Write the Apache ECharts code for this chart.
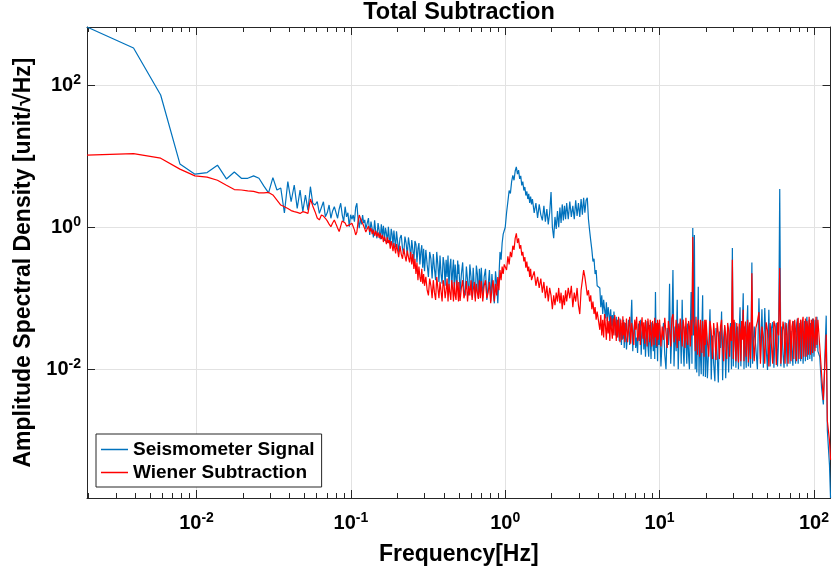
<!DOCTYPE html>
<html>
<head>
<meta charset="utf-8">
<script src="https://cdn.jsdelivr.net/npm/echarts@6/dist/echarts.min.js"></script>
<style>
  html, body { margin: 0; padding: 0; background: #fff; }
  #main { width: 832px; height: 571px; }
</style>
</head>
<body>
<div id="main"></div>
<script>
// frequency readout [Hz]: raw FFT bins (df = 1/512 Hz) at the low end, then ~1 px apart through the noise band
const freqLow = [0.001953125, 0.00391, 0.00586, 0.00781, 0.00977, 0.01172, 0.01367, 0.01563, 0.01758, 0.01953,
  0.02148, 0.02344, 0.02539, 0.02734, 0.0293, 0.03125, 0.0332, 0.03516, 0.03711, 0.03906,
  0.04102, 0.04297, 0.04492, 0.04688, 0.04883, 0.05078, 0.05273, 0.05469, 0.05664, 0.05859,
  0.06055, 0.0625, 0.06445, 0.06641, 0.06836, 0.07031, 0.07227, 0.07422, 0.07617, 0.07813,
  0.08008, 0.08203, 0.08398, 0.08594, 0.08789, 0.08984, 0.0918, 0.09375, 0.0957, 0.09766,
  0.09961, 0.10156, 0.10352, 0.10547, 0.10742, 0.10938, 0.11133, 0.11328, 0.11523, 0.11719,
  0.11914, 0.12109, 0.12305, 0.125];
const freqP1 = [0.13, 0.1325, 0.135, 0.1375, 0.14, 0.1425, 0.145, 0.1475, 0.15, 0.1525,
  0.155, 0.1575, 0.16, 0.1625, 0.165, 0.1675, 0.17, 0.1725, 0.175, 0.1775,
  0.18, 0.1825, 0.185, 0.1875, 0.19, 0.1925, 0.195, 0.1975];
const freqP2 = [0.2, 0.204, 0.208, 0.212, 0.216, 0.22, 0.224, 0.228, 0.232, 0.236,
  0.24, 0.244, 0.248, 0.252, 0.256, 0.26, 0.264, 0.268, 0.272, 0.276,
  0.28, 0.284, 0.288, 0.292, 0.296];
const freqP3 = [0.3, 0.306, 0.312, 0.318, 0.324, 0.33, 0.336, 0.342, 0.348, 0.354,
  0.36, 0.366, 0.372, 0.378, 0.384, 0.39, 0.396, 0.402, 0.408, 0.414,
  0.42, 0.426, 0.432, 0.438, 0.444, 0.45, 0.456, 0.462, 0.468, 0.474,
  0.48, 0.486, 0.492, 0.498];
const freqP4 = [0.5, 0.51, 0.52, 0.53, 0.54, 0.55, 0.56, 0.57, 0.58, 0.59,
  0.6, 0.61, 0.62, 0.63, 0.64, 0.65, 0.66, 0.67, 0.68, 0.69];
const freqP5 = [0.7, 0.715, 0.73, 0.745, 0.76, 0.775, 0.79, 0.805, 0.82, 0.835,
  0.85, 0.865, 0.88, 0.895, 0.91, 0.925, 0.94, 0.955, 0.97, 0.985];
const freqQ1 = [1.0, 1.02, 1.04, 1.06, 1.08, 1.1, 1.12, 1.14, 1.16, 1.18,
  1.2, 1.22, 1.24, 1.26, 1.28, 1.3, 1.32, 1.34, 1.36, 1.38,
  1.4, 1.42, 1.44, 1.46, 1.48];
const freqQ2 = [1.5, 1.54, 1.58, 1.62, 1.66, 1.7, 1.74, 1.78, 1.82, 1.86,
  1.9, 1.94, 1.98, 2.02, 2.06, 2.1, 2.14, 2.18, 2.22, 2.26,
  2.3, 2.34, 2.38, 2.42, 2.46];
const freqQ3 = [2.5, 2.56, 2.62, 2.68, 2.74, 2.8, 2.86, 2.92, 2.98, 3.04,
  3.1, 3.16, 3.22, 3.28, 3.34, 3.4, 3.46, 3.52, 3.58, 3.64,
  3.7, 3.76, 3.82, 3.88, 3.94];
const freqA = [4.10, 4.16, 4.22, 4.28, 4.34, 4.40, 4.46, 4.52, 4.58, 4.64,
  4.70, 4.76, 4.82, 4.88, 4.94, 5.00, 5.06, 5.12, 5.18, 5.24,
  5.30, 5.36, 5.42, 5.48, 5.54, 5.60, 5.66, 5.72, 5.78, 5.84,
  5.90, 5.96];
const freqB = [6.0, 6.1, 6.2, 6.3, 6.4, 6.5, 6.6, 6.7, 6.8, 6.9,
  7.0, 7.1, 7.2, 7.3, 7.4, 7.5, 7.6, 7.7, 7.8, 7.9,
  8.0, 8.1, 8.2, 8.3, 8.4, 8.5, 8.6, 8.7, 8.8, 8.9,
  9.0, 9.1, 9.2, 9.3, 9.4, 9.5, 9.6, 9.7, 9.8, 9.9];
const freqC = [10.0, 10.2, 10.4, 10.6, 10.8, 11.0, 11.2, 11.4, 11.6, 11.8,
  12.0, 12.2, 12.4, 12.6, 12.8, 13.0, 13.2, 13.4, 13.6, 13.8,
  14.0, 14.2, 14.4, 14.6, 14.8, 15.0, 15.2, 15.4, 15.6, 15.8,
  16.0, 16.2, 16.4, 16.6, 16.8, 17.0, 17.2, 17.4, 17.6, 17.8,
  18.0, 18.2, 18.4, 18.6, 18.8, 19.0, 19.2, 19.4, 19.6, 19.8];
const freqD = [20.0, 20.4, 20.8, 21.2, 21.6, 22.0, 22.4, 22.8, 23.2, 23.6,
  24.0, 24.4, 24.8, 25.2, 25.6, 26.0, 26.4, 26.8, 27.2, 27.6,
  28.0, 28.4, 28.8, 29.2, 29.6, 30.0, 30.4, 30.8, 31.2, 31.6,
  32.0, 32.4, 32.8, 33.2, 33.6, 34.0, 34.4, 34.8, 35.2, 35.6,
  36.0, 36.4, 36.8, 37.2, 37.6, 38.0, 38.4, 38.8, 39.2, 39.6];
const freqE = [40, 41, 42, 43, 44, 45, 46, 47, 48, 49,
  50, 51, 52, 53, 54, 55, 56, 57, 58, 59,
  60, 61, 62, 63, 64, 65, 66, 67, 68, 69,
  70, 71, 72, 73, 74, 75, 76, 77, 78, 79,
  80, 81, 82, 83, 84, 85, 86, 87, 88, 89,
  90, 91, 92, 93, 94, 95, 96, 97, 98, 99];
const freqF = [100, 101.5, 103, 104.5, 106, 109, 112, 115, 120, 122, 126, 128];

// Seismometer Signal [unit/sqrt(Hz)]
const seisLow = [662, 335, 73, 7.8, 5.6, 5.9, 7.5, 4.8, 6.0, 4.9,
  4.9, 5.3, 4.9, 3.8, 3.05, 5.0, 3.35, 3.57, 1.59, 4.39,
  2.29, 3.94, 1.85, 3.35, 1.66, 2.85, 1.75, 3.73, 2.18, 2.06,
  2.3, 1.57, 1.9, 2.29, 1.41, 1.6, 2.06, 1.34, 1.7, 1.95,
  1.95, 1.34, 1.8, 2.18, 1.5, 1.2, 1.95, 1.4, 1.6, 1.02,
  1.5, 1.3, 1.49, 1.2, 1.9, 2.18, 1.3, 0.97, 1.35, 1.1,
  1.49, 1.15, 1.27, 0.95];
const seisP1 = [1.35, 0.78, 1.2, 0.95, 0.72, 1.25, 0.85, 0.7, 1.15, 0.9,
  0.68, 1.1, 0.75, 1.05, 0.64, 0.98, 0.82, 0.6, 1.02, 0.7,
  0.58, 0.95, 0.8, 0.55, 0.9, 0.66, 0.52, 0.88];
const seisP2 = [0.83, 0.45, 0.7, 0.78, 0.5, 0.42, 0.74, 0.6, 0.4, 0.72,
  0.55, 0.37, 0.66, 0.48, 0.34, 0.64, 0.58, 0.32, 0.5, 0.6,
  0.3, 0.45, 0.56, 0.27, 0.5];
const seisP3 = [0.24, 0.48, 0.3, 0.2, 0.45, 0.36, 0.19, 0.42, 0.26, 0.18,
  0.45, 0.3, 0.17, 0.4, 0.22, 0.16, 0.38, 0.3, 0.15, 0.35,
  0.2, 0.4, 0.14, 0.28, 0.36, 0.14, 0.24, 0.35, 0.13, 0.3,
  0.2, 0.13, 0.34, 0.22];
const seisP4 = [0.3, 0.12, 0.22, 0.32, 0.13, 0.11, 0.28, 0.18, 0.11, 0.3,
  0.2, 0.105, 0.27, 0.15, 0.1, 0.29, 0.22, 0.1, 0.26, 0.14];
const seisP5 = [0.27, 0.1, 0.2, 0.26, 0.095, 0.15, 0.25, 0.09, 0.22, 0.12,
  0.085, 0.24, 0.16, 0.085, 0.2, 0.45, 0.35, 0.6, 0.8, 0.75];
const seisQ1 = [1.0, 1.6, 2.3, 3.3, 3.0, 4.4, 5.4, 4.6, 6.2, 7.1,
  5.6, 6.4, 4.8, 5.3, 3.9, 4.4, 3.3, 3.7, 2.8, 3.2,
  2.5, 2.95, 2.2, 2.7, 2.1];
const seisQ2 = [2.5, 1.6, 2.2, 1.35, 2.1, 1.5, 1.25, 2.0, 1.2, 1.8,
  1.1, 1.6, 3.14, 1.0, 0.7, 1.4, 0.95, 1.7, 1.0, 1.9,
  1.15, 2.1, 1.25, 2.0, 1.3];
const seisQ3 = [2.2, 1.3, 2.3, 1.4, 2.0, 1.3, 2.4, 1.45, 2.2, 1.4,
  2.5, 1.5, 2.6, 1.6, 2.4, 2.6, 1.3, 0.9, 0.65, 0.48,
  0.33, 0.36, 0.22, 0.25, 0.15];
const seisA = [0.14, 0.075, 0.11, 0.06, 0.095, 0.07, 0.052, 0.088, 0.048, 0.075,
  0.06, 0.042, 0.07, 0.04, 0.058, 0.036, 0.065, 0.045, 0.03, 0.055,
  0.028, 0.05, 0.036, 0.025, 0.052, 0.032, 0.022, 0.045, 0.027, 0.05,
  0.02, 0.038];
const seisB = [0.045, 0.019, 0.03, 0.05, 0.022, 0.04, 0.095, 0.018, 0.035, 0.047,
  0.02, 0.028, 0.017, 0.044, 0.025, 0.05, 0.016, 0.033, 0.045, 0.019,
  0.038, 0.015, 0.03, 0.048, 0.021, 0.015, 0.042, 0.026, 0.014, 0.046,
  0.03, 0.018, 0.044, 0.014, 0.123, 0.02, 0.035, 0.013, 0.045, 0.022];
const seisC = [0.042, 0.011, 0.028, 0.045, 0.016, 0.01, 0.038, 0.022, 0.16, 0.012,
  0.032, 0.25, 0.011, 0.04, 0.018, 0.095, 0.01, 0.035, 0.046, 0.012,
  0.095, 0.02, 0.011, 0.04, 0.026, 0.012, 0.044, 0.016, 0.01, 0.036,
  0.123, 0.012, 0.98, 0.03, 0.78, 0.01, 0.04, 0.009, 0.028, 0.145,
  0.008, 0.035, 0.015, 0.0085, 0.04, 0.11, 0.008, 0.025, 0.038, 0.0078];
const seisD = [0.036, 0.0075, 0.02, 0.07, 0.0072, 0.03, 0.012, 0.0068, 0.038, 0.016,
  0.0065, 0.034, 0.02, 0.065, 0.007, 0.028, 0.04, 0.0075, 0.022, 0.038,
  0.009, 0.03, 0.045, 0.01, 0.51, 0.011, 0.03, 0.046, 0.0105, 0.025,
  0.04, 0.01, 0.035, 0.075, 0.011, 0.03, 0.045, 0.118, 0.01, 0.04,
  0.018, 0.0105, 0.044, 0.08, 0.011, 0.033, 0.02, 0.0105, 0.042, 0.32];
const seisE = [0.012, 0.04, 0.02, 0.01, 0.1, 0.014, 0.07, 0.0105, 0.073, 0.02,
  0.0098, 0.069, 0.011, 0.038, 0.046, 0.0105, 0.03, 0.045, 0.011, 0.025,
  3.45, 0.011, 0.04, 0.016, 0.0105, 0.046, 0.03, 0.011, 0.042, 0.05,
  0.012, 0.035, 0.018, 0.0112, 0.048, 0.028, 0.012, 0.04, 0.052, 0.012,
  0.03, 0.045, 0.013, 0.036, 0.05, 0.012, 0.024, 0.048, 0.013, 0.04,
  0.055, 0.0135, 0.03, 0.05, 0.014, 0.045, 0.025, 0.013, 0.052, 0.03];
const seisF = [0.015, 0.05, 0.02, 0.055, 0.018, 0.015, 0.0055, 0.0032, 0.057, 0.0014, 0.00045, 0.000154];

// Wiener Subtraction residual [unit/sqrt(Hz)]
const wienLow = [10.4, 10.9, 9.4, 6.6, 5.3, 5.1, 4.6, 3.9, 3.4, 3.35,
  3.25, 3.2, 3.05, 3.05, 3.1, 2.85, 2.42, 2.06, 1.95, 1.84,
  1.72, 1.66, 1.62, 1.57, 1.66, 1.62, 1.57, 2.5, 2.0, 1.66,
  1.35, 1.27, 1.49, 1.44, 1.34, 1.23, 1.11, 1.02, 1.15, 1.27,
  1.11, 0.98, 0.87, 1.04, 1.23, 1.27, 1.15, 1.04, 1.02, 1.08,
  1.11, 1.14, 1.11, 0.92, 0.78, 0.86, 1.19, 1.49, 1.35, 1.23,
  1.14, 1.04, 0.95, 0.86];
const wienP1 = [1.04, 0.86, 0.98, 0.8, 0.93, 0.76, 0.89, 0.74, 0.85, 0.71,
  0.82, 0.68, 0.78, 0.62, 0.74, 0.66, 0.58, 0.72, 0.6, 0.66,
  0.5, 0.64, 0.55, 0.46, 0.6, 0.5, 0.43, 0.58];
const wienP2 = [0.5, 0.38, 0.55, 0.42, 0.36, 0.5, 0.4, 0.33, 0.47, 0.38,
  0.32, 0.45, 0.3, 0.42, 0.26, 0.36, 0.22, 0.32, 0.18, 0.28,
  0.2, 0.17, 0.26, 0.16, 0.22];
const wienP3 = [0.15, 0.2, 0.13, 0.11, 0.19, 0.15, 0.1, 0.18, 0.12, 0.095,
  0.2, 0.14, 0.1, 0.17, 0.125, 0.09, 0.18, 0.15, 0.1, 0.13,
  0.19, 0.09, 0.16, 0.12, 0.095, 0.18, 0.14, 0.09, 0.17, 0.11,
  0.095, 0.18, 0.13, 0.09];
const wienP4 = [0.17, 0.092, 0.14, 0.18, 0.1, 0.12, 0.175, 0.09, 0.15, 0.11,
  0.18, 0.095, 0.13, 0.17, 0.09, 0.16, 0.12, 0.098, 0.18, 0.1];
const wienP5 = [0.175, 0.09, 0.15, 0.18, 0.1, 0.12, 0.17, 0.085, 0.14, 0.18,
  0.09, 0.16, 0.11, 0.2, 0.13, 0.25, 0.18, 0.28, 0.22, 0.3];
const wienQ1 = [0.32, 0.25, 0.39, 0.3, 0.45, 0.38, 0.55, 0.48, 0.7, 0.82,
  0.6, 0.7, 0.5, 0.56, 0.4, 0.45, 0.33, 0.38, 0.27, 0.33,
  0.24, 0.28, 0.2, 0.26, 0.18];
const wienQ2 = [0.18, 0.24, 0.15, 0.2, 0.14, 0.19, 0.12, 0.17, 0.1, 0.15,
  0.09, 0.14, 0.11, 0.07, 0.11, 0.08, 0.12, 0.09, 0.14, 0.085,
  0.12, 0.07, 0.11, 0.08, 0.13];
const wienQ3 = [0.09, 0.14, 0.1, 0.15, 0.075, 0.12, 0.09, 0.14, 0.08, 0.06,
  0.13, 0.18, 0.25, 0.2, 0.15, 0.11, 0.13, 0.09, 0.11, 0.07,
  0.09, 0.06, 0.075, 0.05, 0.065];
const wienA = [0.036, 0.058, 0.03, 0.05, 0.028, 0.06, 0.04, 0.026, 0.055, 0.032,
  0.048, 0.025, 0.056, 0.036, 0.027, 0.052, 0.03, 0.058, 0.042, 0.025,
  0.05, 0.028, 0.055, 0.034, 0.024, 0.05, 0.038, 0.026, 0.056, 0.03,
  0.046, 0.024];
const wienB = [0.028, 0.052, 0.024, 0.038, 0.055, 0.023, 0.045, 0.032, 0.022, 0.05,
  0.036, 0.055, 0.025, 0.03, 0.048, 0.022, 0.042, 0.054, 0.027, 0.046,
  0.023, 0.05, 0.035, 0.021, 0.052, 0.04, 0.024, 0.05, 0.03, 0.021,
  0.048, 0.038, 0.022, 0.053, 0.028, 0.045, 0.021, 0.05, 0.026, 0.04];
const wienC = [0.05, 0.021, 0.04, 0.026, 0.053, 0.032, 0.02, 0.048, 0.036, 0.021,
  0.052, 0.06, 0.024, 0.03, 0.05, 0.02, 0.044, 0.025, 0.052, 0.034,
  0.021, 0.05, 0.038, 0.02, 0.053, 0.028, 0.022, 0.048, 0.04, 0.021,
  0.05, 0.03, 0.73, 0.05, 0.04, 0.018, 0.055, 0.03, 0.016, 0.05,
  0.038, 0.015, 0.05, 0.026, 0.017, 0.048, 0.035, 0.015, 0.05, 0.022];
const wienD = [0.05, 0.024, 0.015, 0.048, 0.035, 0.014, 0.045, 0.028, 0.0135, 0.046,
  0.032, 0.014, 0.04, 0.05, 0.02, 0.013, 0.042, 0.03, 0.014, 0.045,
  0.036, 0.015, 0.04, 0.025, 0.35, 0.014, 0.05, 0.028, 0.013, 0.045,
  0.022, 0.0125, 0.044, 0.036, 0.013, 0.048, 0.026, 0.069, 0.013, 0.038,
  0.047, 0.015, 0.03, 0.05, 0.0125, 0.04, 0.046, 0.014, 0.03, 0.225];
const wienE = [0.044, 0.013, 0.038, 0.047, 0.064, 0.012, 0.04, 0.028, 0.012, 0.046,
  0.035, 0.011, 0.045, 0.022, 0.012, 0.048, 0.04, 0.0115, 0.046, 0.03,
  0.267, 0.012, 0.026, 0.047, 0.036, 0.012, 0.045, 0.03, 0.012, 0.044,
  0.05, 0.013, 0.04, 0.048, 0.014, 0.05, 0.035, 0.013, 0.045, 0.053,
  0.014, 0.038, 0.05, 0.014, 0.046, 0.055, 0.015, 0.03, 0.052, 0.015,
  0.048, 0.04, 0.016, 0.055, 0.036, 0.016, 0.05, 0.045, 0.017, 0.052];
const wienF = [0.05, 0.018, 0.055, 0.022, 0.05, 0.021, 0.0085, 0.0037, 0.031, 0.0019, 0.001, 0.00053];

// axis ticks
const xMajor = [0.01, 0.1, 1, 10, 100];
const xMinor = [0.002, 0.003, 0.004, 0.005, 0.006, 0.007, 0.008, 0.009,
  0.02, 0.03, 0.04, 0.05, 0.06, 0.07, 0.08, 0.09,
  0.2, 0.3, 0.4, 0.5, 0.6, 0.7, 0.8, 0.9,
  2, 3, 4, 5, 6, 7, 8, 9,
  20, 30, 40, 50, 60, 70, 80, 90];
const yMajor = [0.01, 1, 100];
const xMin = 0.001953125, xMax = 128;
const yMin = 0.000154, yMax = 662;

const freqs = [].concat(freqLow, freqP1, freqP2, freqP3, freqP4, freqP5, freqQ1, freqQ2, freqQ3,
    freqA, freqB, freqC, freqD, freqE, freqF);
const seis = [].concat(seisLow, seisP1, seisP2, seisP3, seisP4, seisP5, seisQ1, seisQ2, seisQ3,
    seisA, seisB, seisC, seisD, seisE, seisF);
const wien = [].concat(wienLow, wienP1, wienP2, wienP3, wienP4, wienP5, wienQ1, wienQ2, wienQ3,
    wienA, wienB, wienC, wienD, wienE, wienF);

const FONT = "'Liberation Sans', Arial, Helvetica, sans-serif";
const AX = '#262626';
const GRIDC = '#e2e2e2';

// 10^n labels
function powLabel(v) {
    const e = Math.round(Math.log10(v));
    return '{b|10}{s|' + e + '}';
}
const powRich = {
    b: { fontSize: 20, fontWeight: 'bold', fontFamily: FONT, color: '#000' },
    s: { fontSize: 14, fontWeight: 'bold', fontFamily: FONT, color: '#000', padding: [0, 0, 11, 0] }
};

function tickAxis(pos, values, len, line) {
    const isY = pos === 'left' || pos === 'right';
    return {
        type: 'log', min: isY ? yMin : xMin, max: isY ? yMax : xMax,
        position: pos,
        axisLine: { show: line, lineStyle: { color: AX, width: 1 } },
        axisTick: { show: true, inside: true, length: len, customValues: values, lineStyle: { color: AX, width: 1 } },
        axisLabel: { show: false },
        splitLine: { show: false }
    };
}

const chart = echarts.init(document.getElementById('main'));
chart.setOption({
    animation: false,
    backgroundColor: '#fff',
    title: {
        text: 'Total Subtraction',
        left: 459,
        top: 0,
        textAlign: 'center',
        padding: [1, 0, 0, 0],
        textStyle: { fontSize: 23.5, fontWeight: 'bold', color: '#000', fontFamily: FONT }
    },
    legend: {
        orient: 'vertical',
        left: 96,
        top: 434,
        padding: [6, 7, 5, 5],
        itemGap: 4,
        itemWidth: 27,
        itemHeight: 1.5,
        icon: 'rect',
        backgroundColor: '#fff',
        borderColor: AX,
        borderWidth: 1,
        borderRadius: 0,
        textStyle: { fontSize: 19, fontWeight: 'bold', color: '#000', fontFamily: FONT },
        data: ['Seismometer Signal', 'Wiener Subtraction']
    },
    grid: { left: 87, top: 27, width: 744, height: 471 },
    xAxis: [
        {
            type: 'log', min: xMin, max: xMax, position: 'bottom',
            name: 'Frequency[Hz]', nameLocation: 'middle', nameGap: 45,
            nameTextStyle: { fontSize: 23, fontWeight: 'bold', color: '#000', fontFamily: FONT },
            axisLine: { show: true, lineStyle: { color: AX, width: 1 } },
            axisTick: { show: true, inside: true, length: 8, customValues: xMajor, lineStyle: { color: AX, width: 1 } },
            axisLabel: { customValues: xMajor, formatter: powLabel, rich: powRich, margin: 13 },
            splitLine: { show: true, lineStyle: { color: GRIDC, width: 1 } }
        },
        tickAxis('bottom', xMinor, 5, false),
        tickAxis('top', xMajor, 8, true),
        tickAxis('top', xMinor, 5, false)
    ],
    yAxis: [
        {
            type: 'log', min: yMin, max: yMax, position: 'left',
            name: 'Amplitude Spectral Density [unit/\u221AHz]', nameLocation: 'middle', nameGap: 36,
            nameTextStyle: { fontSize: 23, fontWeight: 'bold', color: '#000', fontFamily: FONT },
            axisLine: { show: true, lineStyle: { color: AX, width: 1 } },
            axisTick: { show: true, inside: true, length: 8, customValues: yMajor, lineStyle: { color: AX, width: 1 } },
            axisLabel: { customValues: yMajor, formatter: powLabel, rich: powRich, margin: 6 },
            splitLine: { show: true, lineStyle: { color: GRIDC, width: 1 } }
        },
        tickAxis('right', yMajor, 8, true)
    ],
    series: [
        {
            name: 'Seismometer Signal', type: 'line', xAxisIndex: 0, yAxisIndex: 0,
            symbol: 'none', sampling: null,
            lineStyle: { color: '#0072BD', width: 1.2 },
            itemStyle: { color: '#0072BD' },
            data: freqs.map((f, i) => [f, seis[i]])
        },
        {
            name: 'Wiener Subtraction', type: 'line', xAxisIndex: 0, yAxisIndex: 0,
            symbol: 'none', sampling: null,
            lineStyle: { color: '#FF0000', width: 1.2 },
            itemStyle: { color: '#FF0000' },
            data: freqs.map((f, i) => [f, wien[i]])
        }
    ]
});
</script>
</body>
</html>
